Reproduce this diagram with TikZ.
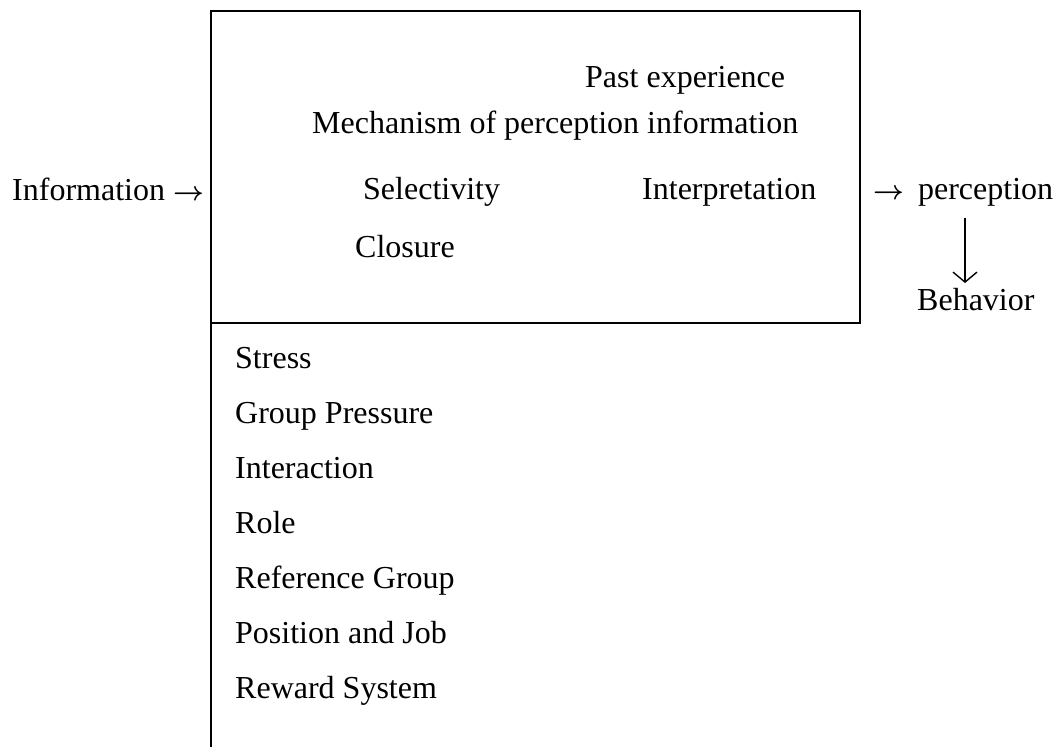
\documentclass[tikz,border=0pt]{standalone}
\usepackage{fontspec}
\setmainfont{Liberation Serif}
\usetikzlibrary{arrows.meta}
\tikzset{
	lbl/.style={anchor=base west, inner sep=0pt, font=\fontsize{32}{38}\selectfont},
}
\newcommand{\rarr}{\scalebox{1.08}{\boldmath$\rightarrow$}}
\begin{document}
\begin{tikzpicture}[x=1pt, y=-1pt]
	\useasboundingbox (0,0) rectangle (1060,747);

	\node[lbl] (info)   at (12,200)  {Information \rarr};
	\node[lbl] (past)   at (585,87)  {Past experience};
	\node[lbl] (mech)   at (312,133) {Mechanism of perception information};
	\node[lbl] (sel)    at (363,199) {Selectivity};
	\node[lbl] (interp) at (642,199) {Interpretation};
	\node[lbl] (clos)   at (355,257) {Closure};
	\node[lbl] (perc)   at (873,199) {\rarr\hspace{14pt}perception};
	\node[lbl] (behav)  at (917,310) {Behavior};

	\foreach \txt [count=\i from 0] in {Stress, Group Pressure, Interaction, Role,
		Reference Group, Position and Job, Reward System}
		\node[lbl] (f\i) at (235,368+55*\i) {\txt};

	\coordinate (dtop) at (965,218);
	\coordinate (dbot) at (965,283);

	\draw [line width=1.5pt] (211,747) -- (211,11) -- (860,11) -- (860,323) -- (211,323);
	\path [-{Straight Barb[length=10pt,width=24pt]}, line width=1.4pt] (dtop) edge (dbot);
\end{tikzpicture}
\end{document}
